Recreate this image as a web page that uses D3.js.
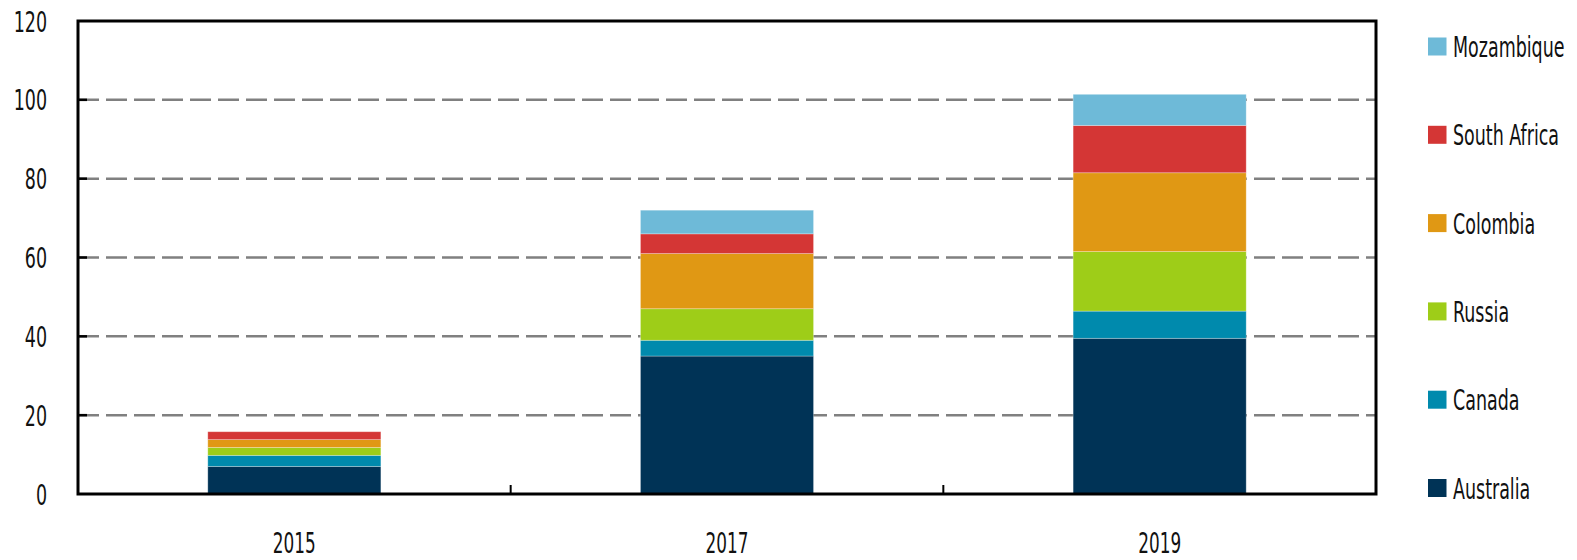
<!DOCTYPE html>
<html><head><meta charset="utf-8">
<script src="https://cdn.jsdelivr.net/npm/d3@7"></script>
<style>html,body{margin:0;padding:0;background:#fff;} svg{display:block;}</style>
</head><body>
<svg id="chart" width="1577" height="560"></svg>
<script>
const categories = ["2015", "2017", "2019"];
const seriesNames = ["Australia", "Canada", "Russia", "Colombia", "South Africa", "Mozambique"];
const australia   = [7.0, 35.0, 39.5];
const canada      = [2.8, 4.0, 6.9];
const russia      = [2.0, 8.0, 15.1];
const colombia    = [2.0, 14.0, 20.0];
const southAfrica = [2.0, 5.0, 12.0];
const mozambique  = [0.0, 6.0, 7.9];
const yTicks = [0, 20, 40, 60, 80, 100, 120];
const colors = ["#003356", "#008AAD", "#9ECD18", "#E09814", "#D43635", "#6EBAD8"];

const seriesValues = [australia, canada, russia, colombia, southAfrica, mozambique];
const rows = categories.map((c, i) => {
  const r = {year: c};
  seriesNames.forEach((s, j) => r[s] = seriesValues[j][i]);
  return r;
});

const svg = d3.select("#chart");
const L = 78, R = 1376, T = 21, B = 494;
const FONT = "'DejaVu Sans Condensed', 'Liberation Sans Narrow', sans-serif";
const SX = 0.67;

const x = d3.scaleBand().domain(categories).range([L, R]).paddingInner(0.6).paddingOuter(0.3);
const y = d3.scaleLinear().domain([0, 120]).range([B, T]);

// gridlines
svg.append("g").selectAll("line").data(yTicks.filter(t => t > 0 && t < 120)).join("line")
  .attr("x1", L).attr("x2", R).attr("y1", d => y(d)).attr("y2", d => y(d))
  .attr("stroke", "#808080").attr("stroke-width", 2.5).attr("stroke-dasharray", "21,7");

// bars
const stack = d3.stack().keys(seriesNames)(rows);
const g = svg.append("g");
stack.forEach((layer, j) => {
  g.append("g").attr("fill", colors[j]).selectAll("rect").data(layer.filter(d => d[1] - d[0] > 0)).join("rect")
    .attr("x", d => x(d.data.year)).attr("width", x.bandwidth())
    .attr("y", d => y(d[1])).attr("height", d => y(d[0]) - y(d[1]))
    .attr("stroke", "#ffffff").attr("stroke-opacity", 0.35).attr("stroke-width", 0.8);
});

// y ticks (inside)
svg.append("g").selectAll("line").data(yTicks.filter(t => t > 0 && t < 120)).join("line")
  .attr("x1", L).attr("x2", L + 9).attr("y1", d => y(d)).attr("y2", d => y(d))
  .attr("stroke", "#000").attr("stroke-width", 2.5);

// x ticks at band boundaries
const bounds = [1, 2].map(i => L + i * (R - L) / 3);
svg.append("g").selectAll("line").data(bounds).join("line")
  .attr("x1", d => d).attr("x2", d => d).attr("y1", B).attr("y2", B - 9)
  .attr("stroke", "#000").attr("stroke-width", 2);

// frame
svg.append("rect").attr("x", L).attr("y", T).attr("width", R - L).attr("height", B - T)
  .attr("fill", "none").attr("stroke", "#000").attr("stroke-width", 3);

// y labels
svg.append("g").selectAll("g").data(yTicks).join("g")
  .attr("transform", d => `translate(47,${y(d) + 10.5}) scale(${SX},1)`)
  .append("text").attr("text-anchor", "end").attr("font-family", FONT).attr("font-size", 29)
  .attr("fill", "#111").text(d => d);

// x labels
svg.append("g").selectAll("g").data(categories).join("g")
  .attr("transform", d => `translate(${x(d) + x.bandwidth() / 2},553) scale(${SX},1)`)
  .append("text").attr("text-anchor", "middle").attr("font-family", FONT).attr("font-size", 28)
  .attr("fill", "#111").text(d => d);

// legend (top to bottom: reverse order)
const legendItems = seriesNames.map((s, j) => ({name: s, color: colors[j]})).reverse();
const lg = svg.append("g").selectAll("g").data(legendItems).join("g")
  .attr("transform", (d, i) => `translate(1428,${46.5 + i * 88.3})`);
lg.append("rect").attr("x", 0).attr("y", -9).attr("width", 18.5).attr("height", 18).attr("fill", d => d.color);
lg.append("g").attr("transform", `translate(25,10.5) scale(${SX},1)`)
  .append("text").attr("font-family", FONT).attr("font-size", 29).attr("fill", "#111").text(d => d.name);
</script>
</body></html>
